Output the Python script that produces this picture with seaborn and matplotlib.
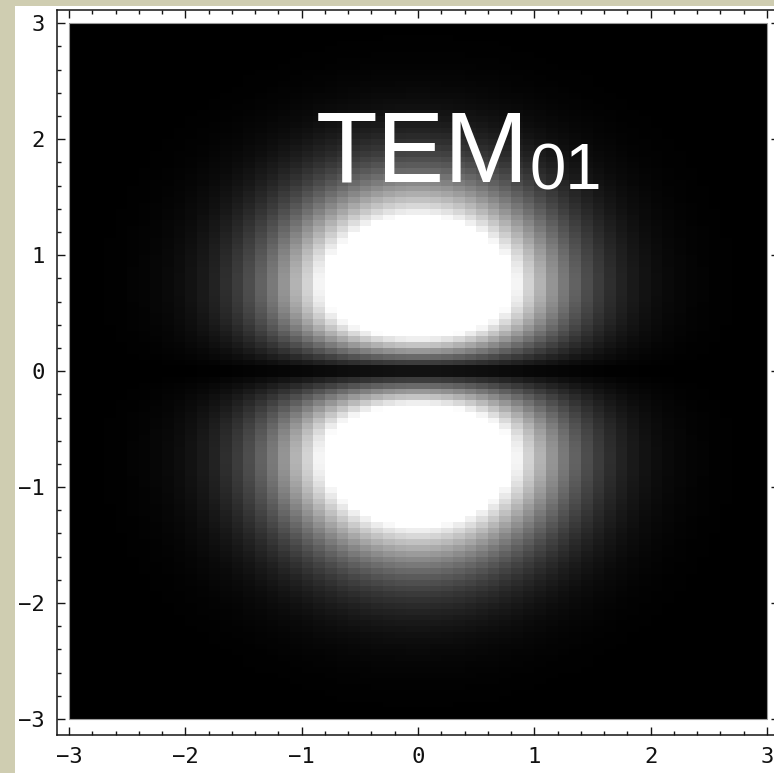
import numpy as np
import pandas as pd
import matplotlib
matplotlib.use("Agg")
import matplotlib.pyplot as plt
from matplotlib.patches import Rectangle
import seaborn as sns

# ---- data -----------------------------------------------------------------
# relative field amplitude along x through the lobe centre (x = 0.05 ... 2.95)
x_half = [0.998, 0.983, 0.954, 0.911, 0.858, 0.795, 0.726, 0.653, 0.578, 0.505,
          0.434, 0.367, 0.306, 0.251, 0.203, 0.162, 0.127, 0.098, 0.075, 0.056,
          0.041, 0.030, 0.022, 0.015, 0.011, 0.007, 0.005, 0.003, 0.002, 0.001]
# relative field amplitude along y at x = 0 (y = 0.025 ... 2.975), scaled to saturation
y_half = [0.092, 0.273, 0.452, 0.624, 0.788, 0.942, 1.084, 1.213, 1.326, 1.424,
          1.506, 1.570, 1.618, 1.650, 1.665, 1.665, 1.651, 1.623, 1.584, 1.535,
          1.476, 1.410, 1.338, 1.262, 1.182, 1.101, 1.020, 0.938, 0.859, 0.782,
          0.707, 0.637, 0.569, 0.507, 0.449, 0.395, 0.346, 0.302, 0.262, 0.226,
          0.194, 0.166, 0.141, 0.119, 0.100, 0.083, 0.070, 0.058, 0.048, 0.039,
          0.032, 0.026, 0.021, 0.017, 0.014, 0.011, 0.009, 0.007, 0.005, 0.004]
x_step = 0.1
y_step = 0.05
major_ticks = [-3, -2, -1, 0, 1, 2, 3]
tick_labels = ["\u22123", "\u22122", "\u22121", "0", "1", "2", "3"]
label_main = "TEM"
label_sub = "01"
gamma = 1.1

# ---- build the grid ---------------------------------------------------------
x_half = np.array(x_half)
y_half = np.array(y_half)
x_prof = np.concatenate([x_half[::-1], x_half])          # left -> right
y_prof = np.concatenate([y_half[::-1], y_half])          # top (y=+3) -> bottom
x_centers = np.round(np.arange(-3 + x_step / 2, 3, x_step), 3)
y_centers = np.round(np.arange(3 - y_step / 2, -3, -y_step), 3)
field = np.clip(np.outer(y_prof, x_prof), 0, 1) ** gamma
df = pd.DataFrame(field, index=y_centers, columns=x_centers)

W, H = 774, 773
fig = plt.figure(figsize=(W / 100, H / 100), dpi=100, facecolor="#CFCDB1")
fig.add_artist(Rectangle((15 / W, 0), 1, 1 - 6 / H, transform=fig.transFigure,
                         facecolor="white", edgecolor="none", zorder=-5))

ax = fig.add_axes([57 / W, 1 - 735 / H, (779 - 57) / W, (735 - 9.5) / H])
sns.heatmap(df, ax=ax, cmap="gray", vmin=0, vmax=1, cbar=False,
            xticklabels=False, yticklabels=False)

nx, ny = len(x_centers), len(y_centers)
ax.add_patch(Rectangle((0, 0), nx, ny, fill=False, edgecolor="#9a9a9a", lw=0.8, zorder=3))


def col(v):
    return (v + 3) / x_step


def row(v):
    return (3 - v) / y_step


ax.set_xlim(col(-3.103), col(3.103))
ax.set_ylim(row(-3.138), row(3.119))

minor = np.round(np.arange(-3, 3.001, 0.2), 2)
ax.set_xticks([col(v) for v in major_ticks])
ax.set_xticklabels(tick_labels)
ax.set_xticks([col(v) for v in minor], minor=True)
ax.set_yticks([row(v) for v in major_ticks])
ax.set_yticklabels(tick_labels, rotation=0)
ax.set_yticks([row(v) for v in minor], minor=True)
ax.set_xlabel("")
ax.set_ylabel("")

for s in ax.spines.values():
    s.set_visible(True)
    s.set_linewidth(1.1)
    s.set_color("#151515")

ax.tick_params(which="both", direction="in", top=True, right=True,
               labeltop=False, labelright=False, color="#151515", width=1.0)
ax.tick_params(which="major", length=5.5, labelsize=16, pad=8.5)
ax.tick_params(which="minor", length=3)
for lab in ax.get_xticklabels() + ax.get_yticklabels():
    lab.set_fontfamily("DejaVu Sans Mono")
    lab.set_color("#111111")

fig.text(316 / W, 1 - 181.7 / H, label_main, color="white", fontsize=72.8,
         family="Liberation Sans", ha="left", va="baseline")
fig.text(530 / W, 1 - 190 / H, label_sub, color="white", fontsize=47,
         family="Liberation Sans", ha="left", va="baseline")

fig.savefig("out.png", dpi=100, facecolor=fig.get_facecolor())
